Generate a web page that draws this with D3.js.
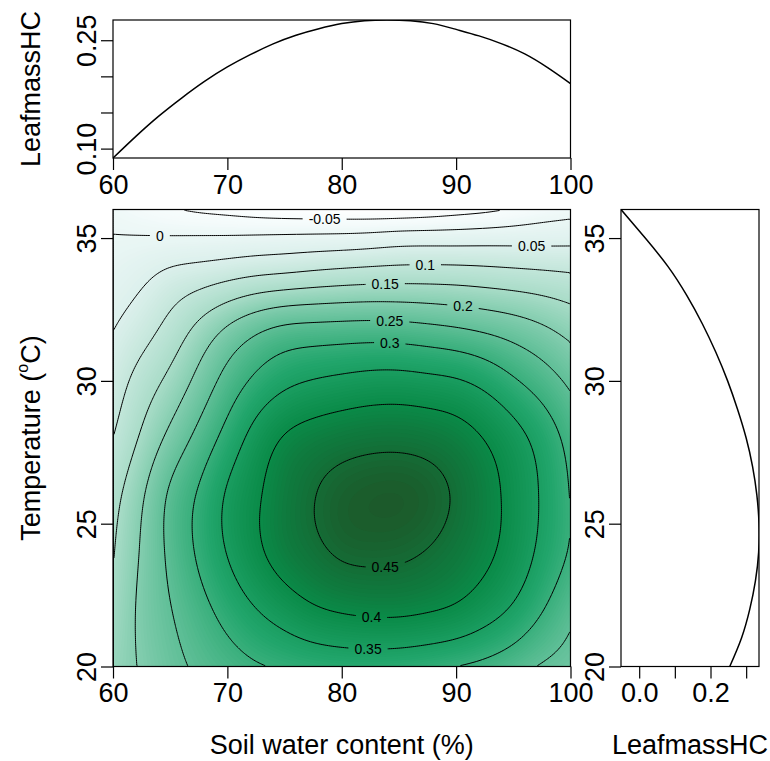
<!DOCTYPE html>
<html>
<head>
<meta charset="utf-8">
<script src="https://cdn.jsdelivr.net/npm/d3@7"></script>
<style>
  html, body { margin: 0; padding: 0; background: #ffffff; }
  svg { display: block; }
  text { font-family: "Liberation Sans", Arial, Helvetica, sans-serif; fill: #000; }
</style>
</head>
<body>
<svg id="chart" width="770" height="761"></svg>
<script>
// ---- surface: predicted LeafmassHC over soil water content x temperature ----
const soilWater = [60, 62.5, 65, 67.5, 70, 72.5, 75, 77.5, 80, 82.5, 85, 87.5, 90, 92.5, 95, 97.5, 100];
const temperature = [20, 22, 24, 26, 28, 30, 32, 34, 35, 36];
// one row per temperature (ascending), one column per soil water value
const leafmass = [
  [0.175, 0.205, 0.235, 0.258, 0.278, 0.295, 0.306, 0.314, 0.319, 0.320, 0.317, 0.310, 0.300, 0.287, 0.268, 0.246, 0.232],
  [0.158, 0.210, 0.248, 0.283, 0.318, 0.349, 0.374, 0.394, 0.405, 0.410, 0.410, 0.404, 0.393, 0.372, 0.343, 0.303, 0.262],
  [0.147, 0.205, 0.260, 0.307, 0.352, 0.390, 0.420, 0.440, 0.455, 0.459, 0.457, 0.448, 0.432, 0.410, 0.380, 0.338, 0.295],
  [0.132, 0.193, 0.257, 0.305, 0.355, 0.393, 0.425, 0.448, 0.464, 0.471, 0.472, 0.464, 0.445, 0.418, 0.385, 0.345, 0.298],
  [0.100, 0.157, 0.213, 0.265, 0.318, 0.368, 0.403, 0.420, 0.430, 0.436, 0.437, 0.432, 0.420, 0.398, 0.368, 0.330, 0.283],
  [0.073, 0.120, 0.163, 0.215, 0.268, 0.310, 0.338, 0.352, 0.360, 0.366, 0.367, 0.362, 0.354, 0.335, 0.306, 0.275, 0.240],
  [0.046, 0.075, 0.112, 0.155, 0.196, 0.228, 0.247, 0.253, 0.256, 0.258, 0.256, 0.250, 0.242, 0.231, 0.217, 0.199, 0.177],
  [0.016, 0.032, 0.049, 0.058, 0.067, 0.076, 0.082, 0.089, 0.095, 0.100, 0.104, 0.105, 0.104, 0.101, 0.097, 0.093, 0.089],
  [0.002, 0.003, 0.004, 0.005, 0.006, 0.008, 0.010, 0.012, 0.014, 0.018, 0.024, 0.026, 0.027, 0.029, 0.031, 0.033, 0.035],
  [-0.013, -0.030, -0.045, -0.057, -0.065, -0.074, -0.080, -0.083, -0.085, -0.087, -0.086, -0.080, -0.070, -0.060, -0.045, -0.028, -0.017]
];
const contourLevels = [-0.05, 0, 0.05, 0.1, 0.15, 0.2, 0.25, 0.3, 0.35, 0.4, 0.45];

// ---- marginal effect curves ----
const topCurveSoil = [60, 62, 64, 66, 68, 70, 72, 74, 76, 78, 80, 82, 84, 86, 88, 90, 92, 94, 96, 98, 100];
const topCurveLeafmass = [0.087, 0.117, 0.145, 0.170, 0.193, 0.213, 0.230, 0.245, 0.257, 0.266, 0.273, 0.277, 0.278, 0.277, 0.273, 0.265, 0.256, 0.245, 0.231, 0.212, 0.190];
const rightCurveTemp = [20, 21, 22, 23, 24, 25, 26, 27, 28, 29, 30, 31, 32, 33, 34, 35, 36];
const rightCurveLeafmass = [0.254, 0.287, 0.310, 0.326, 0.335, 0.336, 0.330, 0.318, 0.300, 0.276, 0.248, 0.215, 0.177, 0.133, 0.081, 0.017, -0.051];

// ---- ticks ----
const soilTicks = [60, 70, 80, 90, 100];
const tempTicks = [20, 25, 30, 35];
const topTickValues = [0.10, 0.15, 0.20, 0.25];
const topTickLabels = ["0.10", "", "", "0.25"];
const rightTickValues = [0.0, 0.1, 0.2, 0.3];
const rightTickLabels = ["0.0", "", "0.2", ""];

// where each contour level gets its printed label (soil water, approx. temperature)
const labelPlacement = [
  { level: -0.05, x: 78.5, t: 35.7 }, { level: 0, x: 64.1, t: 35.1 },
  { level: 0.05, x: 96.6, t: 34.7 }, { level: 0.1, x: 87.3, t: 34.1 },
  { level: 0.15, x: 83.8, t: 33.5 }, { level: 0.2, x: 90.6, t: 32.7 },
  { level: 0.25, x: 84.2, t: 32.1 }, { level: 0.3, x: 84.2, t: 31.4 },
  { level: 0.35, x: 82.3, t: 20.6 }, { level: 0.4, x: 82.6, t: 21.75 },
  { level: 0.45, x: 83.8, t: 23.6 }
];

// ---------------------------------------------------------------------------
const svg = d3.select("#chart");
const FONT = 27;
const mainBox = { x0: 113, x1: 570.5, y0: 209.5, y1: 666.5 };
const topBox = { x0: 113, x1: 570.5, y0: 20, y1: 158 };
const rightBox = { x0: 621, x1: 759, y0: 209.5, y1: 666.5 };

const xMain = d3.scaleLinear().domain([60, 100]).range([mainBox.x0, mainBox.x1]);
const yMain = d3.scaleLinear().domain([20, 36]).range([mainBox.y1, mainBox.y0]);
const yTop = d3.scaleLinear().domain(d3.extent(topCurveLeafmass)).range([topBox.y1, topBox.y0]);
const xRight = d3.scaleLinear().domain(d3.extent(rightCurveLeafmass)).range([rightBox.x0, rightBox.x1]);
const yRight = d3.scaleLinear().domain([20, 36]).range([rightBox.y1, rightBox.y0]);

const fillColor = d3.scaleLinear()
  .domain([-0.09, -0.03, 0.05, 0.15, 0.25, 0.33, 0.40, 0.44, 0.48])
  .range(["#ffffff", "#f4fbfb", "#dcf0ec", "#a9dcc8", "#5fbf97", "#21a56b", "#0a8b48", "#11733a", "#1e5628"])
  .interpolate(d3.interpolateRgb)
  .clamp(true);

// natural cubic spline through (xs, ys)
function naturalSpline(xs, ys) {
  const n = xs.length;
  const h = [];
  for (let i = 0; i < n - 1; i++) h.push(xs[i + 1] - xs[i]);
  const a = [], b = [], c = [], r = [];
  for (let i = 1; i < n - 1; i++) {
    a.push(h[i - 1]); b.push(2 * (h[i - 1] + h[i])); c.push(h[i]);
    r.push(6 * ((ys[i + 1] - ys[i]) / h[i] - (ys[i] - ys[i - 1]) / h[i - 1]));
  }
  const k = r.length;
  for (let i = 1; i < k; i++) {
    const w = a[i] / b[i - 1];
    b[i] -= w * c[i - 1];
    r[i] -= w * r[i - 1];
  }
  const m = new Array(n).fill(0);
  for (let i = k - 1; i >= 0; i--) {
    m[i + 1] = (r[i] - (i < k - 1 ? c[i] * m[i + 2] : 0)) / b[i];
  }
  return function (x) {
    let i = d3.bisectRight(xs, x) - 1;
    i = Math.max(0, Math.min(n - 2, i));
    const hh = xs[i + 1] - xs[i];
    const A = (xs[i + 1] - x) / hh, B = (x - xs[i]) / hh;
    return A * ys[i] + B * ys[i + 1] + ((A * A * A - A) * m[i] + (B * B * B - B) * m[i + 1]) * hh * hh / 6;
  };
}

const rowSplines = leafmass.map(row => naturalSpline(soilWater, row));
function surfaceAt(x, t) {
  return naturalSpline(temperature, rowSplines.map(s => s(x)))(t);
}

// resample the surface on a fine raster for banding and contouring
const N = 230, M = 230;
const fine = new Float64Array(N * M);
for (let j = 0; j < N; j++) {
  const x = 60 + (j + 0.5) * 40 / N;
  const colSpline = naturalSpline(temperature, rowSplines.map(s => s(x)));
  for (let i = 0; i < M; i++) {
    const t = 36 - (i + 0.5) * 16 / M;
    fine[i * N + j] = colSpline(t);
  }
}

const gridToPanel = d3.geoTransform({
  point(px, py) { this.stream.point(xMain(60 + px * 40 / N), yMain(36 - py * 16 / M)); }
});
const gridPath = d3.geoPath(gridToPanel);

const defs = svg.append("defs");
defs.append("clipPath").attr("id", "clipMain").append("rect")
  .attr("x", mainBox.x0).attr("y", mainBox.y0)
  .attr("width", mainBox.x1 - mainBox.x0).attr("height", mainBox.y1 - mainBox.y0);
defs.append("clipPath").attr("id", "clipTop").append("rect")
  .attr("x", topBox.x0).attr("y", topBox.y0)
  .attr("width", topBox.x1 - topBox.x0).attr("height", topBox.y1 - topBox.y0);
defs.append("clipPath").attr("id", "clipRight").append("rect")
  .attr("x", rightBox.x0).attr("y", rightBox.y0)
  .attr("width", rightBox.x1 - rightBox.x0).attr("height", rightBox.y1 - rightBox.y0);

// ---- colour field ----
const bandStep = 0.004;
const bandThresholds = d3.range(-0.1, 0.5, bandStep);
const bands = d3.contours().size([N, M]).thresholds(bandThresholds)(fine);
svg.append("g").attr("clip-path", "url(#clipMain)")
  .selectAll("path").data(bands).join("path")
  .attr("d", gridPath)
  .attr("fill", d => fillColor(d.value + bandStep / 2))
  .attr("stroke", "none");

// ---- contour lines with gaps for labels ----
const labelG = svg.append("g");
const mask = defs.append("mask").attr("id", "labelGaps")
  .attr("maskUnits", "userSpaceOnUse").attr("x", 0).attr("y", 0).attr("width", 770).attr("height", 761);
mask.append("rect").attr("x", 0).attr("y", 0).attr("width", 770).attr("height", 761).attr("fill", "#fff");

function findCrossing(level, x, tHint) {
  const f = t => surfaceAt(x, t) - level;
  let best = null;
  const step = 0.02;
  for (let t = Math.max(20, tHint - 1.5); t < Math.min(36, tHint + 1.5); t += step) {
    const f0 = f(t), f1 = f(t + step);
    if (f0 === 0 || f0 * f1 < 0) {
      let lo = t, hi = t + step;
      for (let k = 0; k < 40; k++) {
        const mid = (lo + hi) / 2;
        if (f(lo) * f(mid) <= 0) hi = mid; else lo = mid;
      }
      const root = (lo + hi) / 2;
      if (best === null || Math.abs(root - tHint) < Math.abs(best - tHint)) best = root;
    }
  }
  return best === null ? tHint : best;
}

labelPlacement.forEach(p => {
  const t = findCrossing(p.level, p.x, p.t);
  const cx = xMain(p.x), cy = yMain(t);
  const txt = labelG.append("text")
    .attr("x", cx).attr("y", cy)
    .attr("text-anchor", "middle").attr("dominant-baseline", "central")
    .attr("font-size", 14).attr("fill", "#111")
    .text(String(p.level));
  const w = txt.node().getComputedTextLength();
  mask.append("rect")
    .attr("x", cx - w / 2 - 6).attr("y", cy - 7)
    .attr("width", w + 12).attr("height", 14).attr("fill", "#000");
});

const lines = d3.contours().size([N, M]).thresholds(contourLevels)(fine);
const lineG = svg.insert("g", () => labelG.node()).attr("clip-path", "url(#clipMain)");
lineG.append("g").attr("mask", "url(#labelGaps)")
  .selectAll("path").data(lines).join("path")
  .attr("d", gridPath)
  .attr("fill", "none").attr("stroke", "#000").attr("stroke-width", 1);

// ---- marginal curves ----
svg.append("path")
  .datum(topCurveSoil.map((x, i) => [x, topCurveLeafmass[i]]))
  .attr("clip-path", "url(#clipTop)")
  .attr("d", d3.line().x(d => xMain(d[0])).y(d => yTop(d[1])).curve(d3.curveNatural))
  .attr("fill", "none").attr("stroke", "#000").attr("stroke-width", 1.5);

svg.append("path")
  .datum(rightCurveTemp.map((t, i) => [rightCurveLeafmass[i], t]))
  .attr("clip-path", "url(#clipRight)")
  .attr("d", d3.line().x(d => xRight(d[0])).y(d => yRight(d[1])).curve(d3.curveNatural))
  .attr("fill", "none").attr("stroke", "#000").attr("stroke-width", 1.5);

// ---- frames ----
[mainBox, topBox, rightBox].forEach(b => {
  svg.append("rect")
    .attr("x", b.x0).attr("y", b.y0).attr("width", b.x1 - b.x0).attr("height", b.y1 - b.y0)
    .attr("fill", "none").attr("stroke", "#000").attr("stroke-width", 1.2);
});

// ---- axes ----
const TICK = 12, LABEL_OFF = 26.5;
function styleBottom(g) {
  g.select(".domain").remove();
  g.selectAll(".tick line").attr("stroke", "#000").attr("stroke-width", 1.2);
  g.selectAll(".tick text")
    .attr("y", LABEL_OFF).attr("dy", null)
    .attr("dominant-baseline", "central")
    .attr("font-size", FONT).attr("font-family", null).attr("fill", "#000");
  g.attr("font-family", null).attr("font-size", null);
}
function styleLeft(g) {
  g.select(".domain").remove();
  g.selectAll(".tick line").attr("stroke", "#000").attr("stroke-width", 1.2);
  g.selectAll(".tick text")
    .attr("x", 0).attr("dy", null)
    .attr("y", -LABEL_OFF)
    .attr("transform", "rotate(-90)")
    .attr("text-anchor", "middle")
    .attr("dominant-baseline", "central")
    .attr("font-size", FONT).attr("font-family", null).attr("fill", "#000");
  g.attr("font-family", null).attr("font-size", null);
}

svg.append("g").attr("transform", `translate(0,${mainBox.y1})`)
  .call(d3.axisBottom(xMain).tickValues(soilTicks).tickSize(TICK).tickFormat(d3.format("d")))
  .call(styleBottom);
svg.append("g").attr("transform", `translate(0,${topBox.y1})`)
  .call(d3.axisBottom(xMain).tickValues(soilTicks).tickSize(TICK).tickFormat(d3.format("d")))
  .call(styleBottom);
svg.append("g").attr("transform", `translate(${mainBox.x0},0)`)
  .call(d3.axisLeft(yMain).tickValues(tempTicks).tickSize(TICK).tickFormat(d3.format("d")))
  .call(styleLeft);
svg.append("g").attr("transform", `translate(${topBox.x0},0)`)
  .call(d3.axisLeft(yTop).tickValues(topTickValues).tickSize(TICK).tickFormat((d, i) => topTickLabels[i]))
  .call(styleLeft);
svg.append("g").attr("transform", `translate(${rightBox.x0},0)`)
  .call(d3.axisLeft(yRight).tickValues(tempTicks).tickSize(TICK).tickFormat(d3.format("d")))
  .call(styleLeft);
svg.append("g").attr("transform", `translate(0,${rightBox.y1})`)
  .call(d3.axisBottom(xRight).tickValues(rightTickValues).tickSize(TICK).tickFormat((d, i) => rightTickLabels[i]))
  .call(styleBottom);

// ---- axis titles ----
svg.append("text")
  .attr("x", (mainBox.x0 + mainBox.x1) / 2).attr("y", 745)
  .attr("text-anchor", "middle").attr("dominant-baseline", "central")
  .attr("font-size", FONT).text("Soil water content (%)");
svg.append("text")
  .attr("x", (rightBox.x0 + rightBox.x1) / 2).attr("y", 745)
  .attr("text-anchor", "middle").attr("dominant-baseline", "central")
  .attr("font-size", FONT).text("LeafmassHC");
svg.append("text")
  .attr("transform", `translate(31,${(topBox.y0 + topBox.y1) / 2}) rotate(-90)`)
  .attr("text-anchor", "middle").attr("dominant-baseline", "central")
  .attr("font-size", FONT).text("LeafmassHC");
const tTitle = svg.append("text")
  .attr("transform", `translate(31,${(mainBox.y0 + mainBox.y1) / 2}) rotate(-90)`)
  .attr("text-anchor", "middle").attr("dominant-baseline", "central")
  .attr("font-size", FONT);
tTitle.append("tspan").text("Temperature (");
tTitle.append("tspan").attr("font-size", 16).attr("dy", -9).text("o");
tTitle.append("tspan").attr("dy", 9).text("C)");
</script>
</body>
</html>
